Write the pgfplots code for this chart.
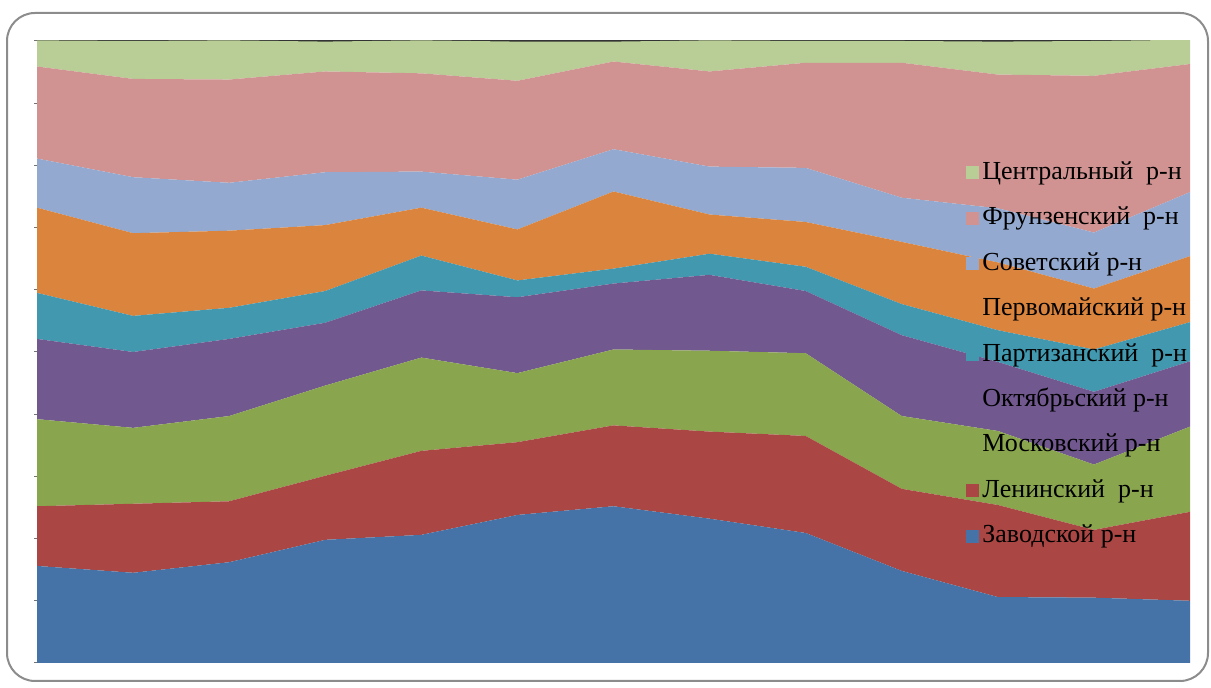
\documentclass[border=0pt]{standalone}
\usepackage{pgfplots}
\usepackage{pgfplotstable}
\pgfplotsset{compat=1.18}
\usepackage{fontspec}
\setmainfont{Liberation Serif}
\definecolor{cZav}{HTML}{4572A7}
\definecolor{cLen}{HTML}{AA4643}
\definecolor{cMos}{HTML}{89A54E}
\definecolor{cOkt}{HTML}{71588F}
\definecolor{cPar}{HTML}{4198AF}
\definecolor{cPer}{HTML}{DB843D}
\definecolor{cSov}{HTML}{93A9CF}
\definecolor{cFru}{HTML}{D19392}
\definecolor{cCen}{HTML}{B9CD96}
\pgfplotstableread{
x zav len mos okt par per sov fru cen
0  15.6 9.6  14.0 12.9 7.4 13.7 7.9  14.8 4.2
1  14.5 11.1 12.2 12.2 5.8 13.3 9.0  15.8 6.1
2  16.2 9.8  13.7 12.4 5.0 12.4 7.7  16.6 6.3
3  19.8 10.3 14.5 10.1 5.1 10.6 8.5  16.2 4.8
4  20.6 13.5 15.0 10.8 5.6 7.7  5.8  15.8 5.3
5  23.8 11.7 11.1 12.2 2.7 8.2  8.0  15.9 6.3
6  25.2 13.0 12.2 10.6 2.4 12.4 6.8  14.1 3.2
7  23.2 14.0 13.0 12.2 3.4 6.3  7.7  15.3 5.0
8  20.9 15.6 13.3 10.0 3.9 7.2  8.7  16.9 3.5
9  14.8 13.2 11.7 13.0 5.0 10.0 7.1  21.7 3.5
10 10.6 14.8 11.9 11.1 5.1 10.9 8.7  21.5 5.3
11 10.5 10.9 10.5 11.7 6.8 9.8  9.0  25.2 5.6
12 10.0 14.3 13.7 10.5 6.3 10.6 10.3 20.6 3.9
}\datatable
\begin{document}
\begin{tikzpicture}
\useasboundingbox (0pt,0pt) rectangle (605.5pt,344pt);
\draw[color=black!45, line width=1pt, rounded corners=14pt] (3.5pt,3.5pt) rectangle (604pt,337.5pt);
\begin{axis}[
  at={(18.5pt,12.5pt)}, anchor=south west,
  scale only axis, width=576.5pt, height=311pt,
  xmin=0, xmax=12, ymin=0, ymax=100,
  stack plots=y,
  axis line style={draw=none},
  xtick=\empty,
  ytick={0,10,...,100}, yticklabels={},
  ytick pos=left, tick align=outside,
  major tick length=1.5pt,
  tick style={black!55, line width=0.5pt},
  reverse legend,
  legend cell align=left,
  legend image code/.code={\fill[#1] (0pt,-3.25pt) rectangle (6.5pt,3.25pt);},
  legend style={at={(0.8,0.815)}, anchor=north west, draw=none, fill=none,
    font=\fontsize{13pt}{15pt}\selectfont,
    row sep=10.2pt,
    nodes={inner ysep=0pt, inner xsep=1.8pt, text height=9.5pt, text depth=3pt}},
]
\addplot[fill=cZav, draw=none] table[x=x, y=zav] {\datatable} \closedcycle;
\addlegendentry{Заводской р-н}
\addplot[fill=cLen, draw=none] table[x=x, y=len] {\datatable} \closedcycle;
\addlegendentry{Ленинский\ \ р-н}
\addplot[fill=cMos, draw=none] table[x=x, y=mos] {\datatable} \closedcycle;
\addlegendentry{Московский р-н}
\addplot[fill=cOkt, draw=none] table[x=x, y=okt] {\datatable} \closedcycle;
\addlegendentry{Октябрьский р-н}
\addplot[fill=cPar, draw=none] table[x=x, y=par] {\datatable} \closedcycle;
\addlegendentry{Партизанский\ \ р-н}
\addplot[fill=cPer, draw=none] table[x=x, y=per] {\datatable} \closedcycle;
\addlegendentry{Первомайский р-н}
\addplot[fill=cSov, draw=none] table[x=x, y=sov] {\datatable} \closedcycle;
\addlegendentry{Советский р-н}
\addplot[fill=cFru, draw=none] table[x=x, y=fru] {\datatable} \closedcycle;
\addlegendentry{Фрунзенский\ \ р-н}
\addplot[fill=cCen, draw=none] table[x=x, y=cen] {\datatable} \closedcycle;
\addlegendentry{Центральный\ \ р-н}
\draw[black!80, line width=1pt] (rel axis cs:0,1) -- (rel axis cs:1,1);
\draw[black!60!cZav, line width=0.8pt] (rel axis cs:0,0) -- (rel axis cs:1,0);
\end{axis}
\end{tikzpicture}
\end{document}
